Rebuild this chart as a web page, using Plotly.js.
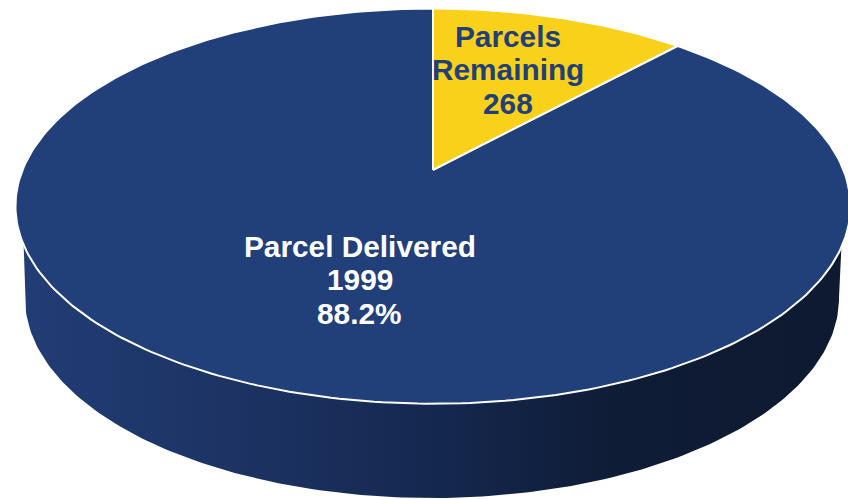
<!DOCTYPE html>
<html>
<head>
<meta charset="utf-8">
<script src="https://cdn.plot.ly/plotly-3.0.1.min.js"></script>
<style>html,body{margin:0;padding:0;background:#fff;overflow:hidden}#chart{width:848px;height:499px}</style>
</head>
<body>
<div id="chart"></div>
<script>
// Data
const values = [268, 1999];
const sliceColors = ['#F9D11B', '#21407A'];
const deliveredLabel = ['Parcel Delivered', '1999', '88.2%'];
const remainingLabel = ['Parcels', 'Remaining', '268'];

// Perspective of the tilted disc (view settings, in axis units)
const apexX = 433, apexY = 170, scaleU = 410.5, scaleV = 191, persp = 0.1827;
const base = {cx: 432, cy: 298, rx: 407, ry: 200};

function rim(turn) {
  const a = 2 * Math.PI * turn, u = Math.sin(a), v = Math.cos(a), w = 1 + persp * v;
  return [apexX + scaleU * u / w, apexY - scaleV * v / w];
}
const total = values.reduce((a, b) => a + b, 0);

function slicePath(start, frac) {
  const xs = [apexX], ys = [apexY], n = Math.max(8, Math.round(frac * 360));
  for (let i = 0; i <= n; i++) {
    const p = rim(start + frac * i / n);
    xs.push(p[0]); ys.push(p[1]);
  }
  xs.push(apexX); ys.push(apexY);
  return [xs, ys];
}

// side wall: the lower half of the base ellipse joined to the disc's rim
const sideX = [], sideY = [];
const startRim = rim(0.747), endRim = rim(0.253);
sideX.push(startRim[0]); sideY.push(startRim[1]);
for (let d = 180; d >= 0; d -= 1) {
  const r = d * Math.PI / 180;
  sideX.push(base.cx + base.rx * Math.cos(r));
  sideY.push(base.cy + base.ry * Math.sin(r));
}
sideX.push(endRim[0]); sideY.push(endRim[1]);

const traces = [{
  type: 'scatter', mode: 'lines', x: sideX, y: sideY, fill: 'toself',
  line: {width: 0, color: 'rgba(0,0,0,0)'},
  fillgradient: {type: 'horizontal', colorscale: [
    [0, '#223D75'], [0.3, '#1B3160'], [0.52, '#14274D'], [0.72, '#0F1C36'], [1, '#0E1A30']
  ]},
  hoverinfo: 'skip', showlegend: false
}];

let acc = 0;
values.forEach((val, i) => {
  const frac = val / total, p = slicePath(acc, frac);
  traces.push({
    type: 'scatter', mode: 'lines', x: p[0], y: p[1], fill: 'toself',
    fillcolor: sliceColors[i], line: {color: '#FFFFFF', width: 2},
    hoverinfo: 'skip', showlegend: false
  });
  acc += frac;
});

const font = 'Liberation Sans, Arial, sans-serif';
function lines(arr, x, y0, step, color) {
  return arr.map((t, i) => ({
    text: '<b>' + t + '</b>', x: x, y: y0 + i * step, xref: 'x', yref: 'y',
    showarrow: false, xanchor: 'center', yanchor: 'middle',
    font: {family: font, size: 29.8, color: color}
  }));
}

Plotly.newPlot('chart', traces, {
  width: 848, height: 499,
  margin: {l: 0, r: 0, t: 0, b: 0},
  paper_bgcolor: '#FFFFFF', plot_bgcolor: '#FFFFFF',
  showlegend: false,
  xaxis: {range: [0, 848], visible: false, fixedrange: true},
  yaxis: {range: [499, 0], visible: false, fixedrange: true},
  annotations: lines(deliveredLabel, 359.5, 246, 33.5, '#FFFFFF')
    .concat(lines(remainingLabel, 507.5, 36, 33.5, '#21407A'))
}, {displayModeBar: false, staticPlot: true});
</script>
</body>
</html>
